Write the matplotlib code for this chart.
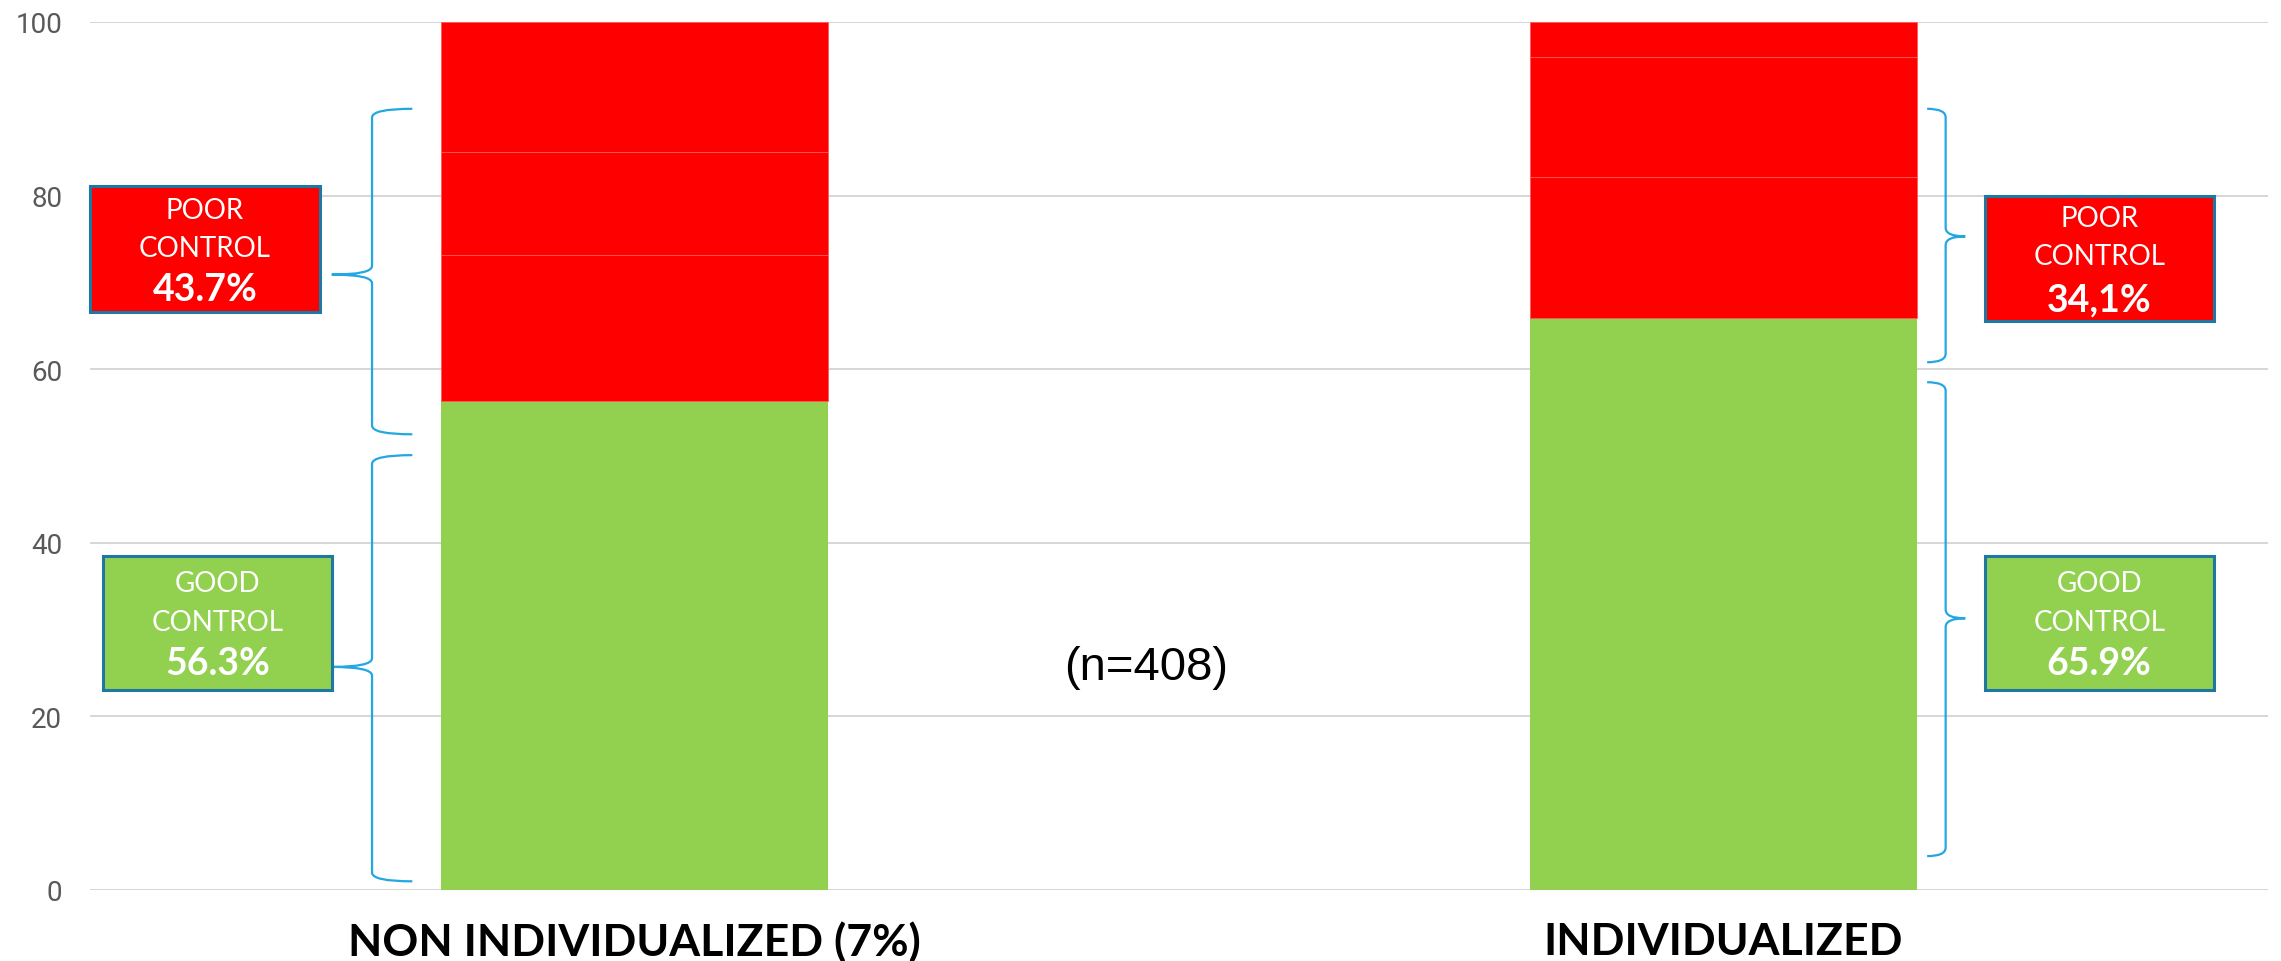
import matplotlib
matplotlib.use('Agg')
import matplotlib.pyplot as plt
from matplotlib.path import Path
from matplotlib.patches import PathPatch, Rectangle

# values
categories = ['NON INDIVIDUALIZED (7%)', 'INDIVIDUALIZED']
good = [56.3, 65.9]
poor_a = [16.9, 16.3]
poor_b = [11.8, 13.8]
poor_c = [15.0, 4.0]
good_labels = ['56.3%', '65.9%']
poor_labels = ['43.7%', '34,1%']
yticks = [0, 20, 40, 60, 80, 100]
n_text = '(n=408)'

RED = '#fe0000'
GREEN = '#92d050'
BORDER = '#1f77a4'
BRACE = '#22a7e2'

fig = plt.figure(figsize=(22.81, 9.62), dpi=100)
ax = fig.add_axes([90 / 2281, 71 / 962, 2178 / 2281, 868 / 962])

x = list(range(len(categories)))
w = 0.355
ax.bar(x, good, w, color=GREEN, linewidth=0, zorder=3)
bottom = list(good)
for seg in [poor_a, poor_b, poor_c]:
    ax.bar(x, seg, w, bottom=bottom, color=RED, edgecolor='#ff5a5a', linewidth=0.6, zorder=3)
    bottom = [b + s for b, s in zip(bottom, seg)]

ax.set_xlim(-0.5, 1.5)
ax.set_ylim(0, 100)
ax.set_yticks(yticks)
ax.set_yticklabels([str(t) for t in yticks], fontsize=20, color='#595959', family='Roboto')
ax.set_xticks(x)
ax.set_xticklabels(categories, fontsize=32, fontweight='bold', family='Lato', color='black')
ax.tick_params(axis='both', length=0)
ax.tick_params(axis='y', pad=20)
ax.tick_params(axis='x', pad=22)
ax.grid(axis='y', color='#d6d6d6', linewidth=1.4, zorder=0)
ax.set_axisbelow(True)
for s in ax.spines.values():
    s.set_visible(False)


def brace(x_end, x_spine, x_tip, y_top, y_bot, y_mid, r=1.0):
    verts = [(x_end, y_top), (x_spine, y_top), (x_spine, y_top - r),
             (x_spine, y_mid + r), (x_spine, y_mid), (x_tip, y_mid),
             (x_spine, y_mid), (x_spine, y_mid - r),
             (x_spine, y_bot + r), (x_spine, y_bot), (x_end, y_bot)]
    codes = [Path.MOVETO, Path.CURVE3, Path.CURVE3,
             Path.LINETO, Path.CURVE3, Path.CURVE3,
             Path.CURVE3, Path.CURVE3,
             Path.LINETO, Path.CURVE3, Path.CURVE3]
    ax.add_patch(PathPatch(Path(verts, codes), fill=False, edgecolor=BRACE,
                           linewidth=1.6, clip_on=False, zorder=4))


# left braces "{" and right braces "}"
brace(-0.204, -0.241, -0.278, 90.0, 52.5, 70.9)
brace(-0.204, -0.241, -0.278, 50.1, 1.0, 25.7)
brace(1.187, 1.204, 1.222, 90.0, 60.8, 75.3)
brace(1.187, 1.204, 1.222, 58.5, 3.9, 31.3)


def label_box(x0, x1, y0, y1, color, word, pct, ys):
    ax.add_patch(Rectangle((x0, y0), x1 - x0, y1 - y0, facecolor=color,
                           edgecolor=BORDER, linewidth=2.2, clip_on=False, zorder=5))
    xc = (x0 + x1) / 2
    ax.text(xc, ys[0], word, ha='center', va='center', fontsize=20, color='white',
            family='Lato', zorder=6)
    ax.text(xc, ys[1], 'CONTROL', ha='center', va='center', fontsize=20, color='white',
            family='Lato', zorder=6)
    ax.text(xc, ys[2], pct, ha='center', va='center', fontsize=27, color='white',
            family='Lato', fontweight='bold', zorder=6)


label_box(-0.5, -0.289, 66.6, 81.1, RED, 'POOR', poor_labels[0], [78.3, 74.0, 69.2])
label_box(-0.488, -0.278, 23.0, 38.5, GREEN, 'GOOD', good_labels[0], [35.4, 30.9, 26.1])
label_box(1.240, 1.450, 65.6, 80.0, RED, 'POOR', poor_labels[1], [77.4, 73.0, 68.0])
label_box(1.240, 1.450, 23.0, 38.5, GREEN, 'GOOD', good_labels[1], [35.4, 30.9, 26.1])

ax.text(0.47, 25.7, n_text, ha='center', va='center', fontsize=34,
        family='Liberation Sans', color='black')

fig.savefig('out.png', dpi=100)
